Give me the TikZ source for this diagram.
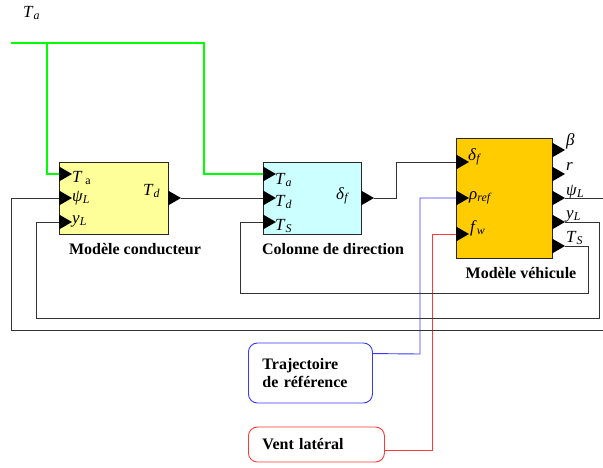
\documentclass[tikz,border=0pt]{standalone}
\usepackage{fontspec}
\setmainfont{Liberation Serif}
\definecolor{condyellow}{HTML}{FFFF99}
\definecolor{colcyan}{HTML}{CCFFFF}
\definecolor{vehorange}{HTML}{FFCC00}
\definecolor{refblue}{HTML}{3838FF}
\definecolor{windred}{HTML}{FF3838}
\definecolor{torquegreen}{HTML}{00FF00}
\newcommand{\sig}[2]{\textit{#1}\textsubscript{\textit{#2}}}

\begin{document}
\begin{tikzpicture}[
  x=1pt, y=-1pt,
  block/.style={draw=black!85, line width=0.8pt, minimum height=72pt, inner sep=0pt},
  port/.style={inner sep=0pt, outer sep=0pt, minimum width=13pt, minimum height=15pt,
    anchor=west, path picture={\fill (path picture bounding box.north west)
      -- (path picture bounding box.east) -- (path picture bounding box.south west) -- cycle;}},
  sigl/.style={font=\fontsize{17}{19}\selectfont, inner sep=0pt, anchor=base west},
  title/.style={font=\fontsize{16}{19}\selectfont\bfseries, inner sep=0pt},
  wire/.style={draw=black!80, line width=0.9pt},
  torque/.style={draw=torquegreen, line width=2.6pt},
  source/.style={rounded corners=9pt, line width=0.9pt, align=left, anchor=west,
    font=\fontsize{16}{18.5}\selectfont\bfseries, inner xsep=14pt, inner ysep=0pt},
]
\useasboundingbox (0,0) rectangle (603,467);
\clip (0,0) rectangle (603,467);

% blocks
\node[block, fill=condyellow, minimum width=109pt] (cond) at (113.5,198) {};
\node[block, fill=colcyan, minimum width=98pt] (col) at (312,198) {};
\node[block, fill=vehorange, minimum width=96pt, minimum height=120pt] (veh) at (504,198) {};

\node[title] (cond-t) at (135,249) {Modèle conducteur};
\node[title] (col-t) at (333,249) {Colonne de direction};
\node[title] (veh-t) at (521,273) {Modèle véhicule};

% ports
\node[port] (cond-ta) at (59,174) {};
\node[port] (cond-psi) at (59,198) {};
\node[port] (cond-y) at (59,222) {};
\node[port] (cond-td) at (168,198) {};
\node[port] (col-ta) at (263,174) {};
\node[port] (col-td) at (263,198) {};
\node[port] (col-ts) at (263,222) {};
\node[port] (col-df) at (361,198) {};
\node[port] (veh-df) at (456,162) {};
\node[port] (veh-rho) at (456,198) {};
\node[port] (veh-fw) at (456,234) {};
\node[port] (veh-beta) at (552,150) {};
\node[port] (veh-r) at (552,174) {};
\node[port] (veh-psi) at (552,198) {};
\node[port] (veh-y) at (552,222) {};
\node[port] (veh-ts) at (552,246) {};

% signal names
\node[sigl] (lab-ta) at (23,17) {\sig{T}{a}};
\node[sigl] at (72,182) {\textit{T}\,\textsubscript{a}};
\node[sigl] at (72,201) {\sig{ψ}{L}};
\node[sigl] at (72,223) {\sig{y}{L}};
\node[sigl] at (143,195) {\sig{T}{d}};
\node[sigl] at (275,184) {\sig{T}{a}};
\node[sigl] at (275,206) {\sig{T}{d}};
\node[sigl] at (275,230) {\sig{T}{S}};
\node[sigl] at (336,199) {\sig{δ}{f}};
\node[sigl] at (468,160) {\sig{δ}{f}};
\node[sigl] at (469,199) {\sig{ρ}{ref}};
\node[sigl] at (470,232) {\sig{f}{w}};
\node[sigl] at (566,145) {\textit{β}};
\node[sigl] at (566,170) {\textit{r}};
\node[sigl] at (566,195) {\sig{ψ}{L}};
\node[sigl] at (566,218) {\sig{y}{L}};
\node[sigl] at (566,242) {\sig{T}{S}};

% sources
\node[source, draw=refblue, text width=96pt, minimum height=60pt] (traj)
  at (248,373) {Trajectoire\\de référence};
\node[source, draw=windred, text width=108pt, minimum height=35pt] (vent)
  at (248,444.5) {Vent latéral};

% driver torque
\coordinate (ta-in) at (11,43);
\draw[torque] (ta-in) -- (204,43) |- (col-ta.west);
\draw[torque] (47,43) |- (cond-ta.west);

% forward path
\draw[wire] (cond-td.east) -- (col-td.west);
\draw[wire] (col-df.east) -- (396,198) |- (veh-df.west);
\draw[refblue, line width=0.9pt] ([yshift=-11pt]traj.north east) -- (420,354) |- (veh-rho.west);
\draw[windred, line width=0.9pt] ([yshift=-5.5pt]vent.east) -- (432,450) |- (veh-fw.west);

% feedback loops
\draw[wire] (veh-ts.east) -- (588,246) |- (240,293) |- (col-ts.west);
\draw[wire] (veh-y.east) -- (599,222) |- (36,318) |- (cond-y.west);
\draw[wire] (veh-psi.east) -- (612,198) |- (11,330) |- (cond-psi.west);

\end{tikzpicture}
\end{document}
